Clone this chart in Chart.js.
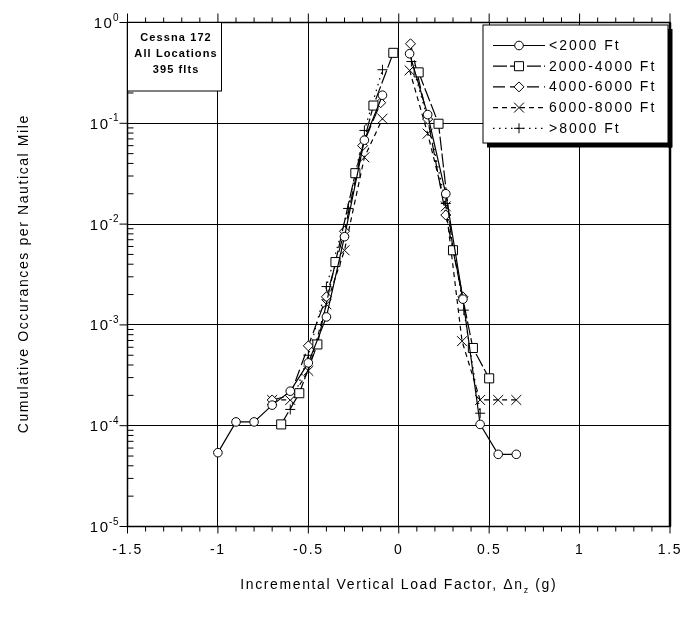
<!DOCTYPE html>
<html>
<head>
<meta charset="utf-8">
<script src="https://cdn.jsdelivr.net/npm/chart.js@4.4.1/dist/chart.umd.min.js"></script>
<style>
  html, body { margin: 0; padding: 0; background: #fff; }
  canvas { display: block; }
</style>
</head>
<body>
<canvas id="gustChart" width="681" height="620"></canvas>
<script>
// tick labels
const xTicks = [-1.5, -1, -0.5, 0, 0.5, 1, 1.5]
const xTickLabels = ['-1.5', '-1', '-0.5', '0', '0.5', '1', '1.5']
const yTicks = [1e-5, 1e-4, 1e-3, 1e-2, 1e-1, 1]
const yTickExps = ['-5', '-4', '-3', '-2', '-1', '0']

const seriesNames = ['<2000 Ft', '2000-4000 Ft', '4000-6000 Ft', '6000-8000 Ft', '>8000 Ft']

// null = gap between the negative and positive branch
const lt2000X = [-1.0, -0.9, -0.8, -0.7, -0.6, -0.5, -0.4, -0.3, -0.19, -0.09, null, 0.06, 0.16, 0.26, 0.355, 0.45, 0.55, 0.65]
const lt2000Y = [5.4e-5, 1.09e-4, 1.09e-4, 1.6e-4, 2.2e-4, 4.2e-4, 1.2e-3, 7.5e-3, 0.068, 0.19, null, 0.49, 0.122, 0.020, 1.8e-3, 1.03e-4, 5.2e-5, 5.2e-5]

const ft2to4X = [-0.65, -0.55, -0.45, -0.35, -0.24, -0.14, -0.03, null, 0.11, 0.22, 0.30, 0.41, 0.50]
const ft2to4Y = [1.03e-4, 2.1e-4, 6.4e-4, 4.2e-3, 0.032, 0.15, 0.50, null, 0.32, 0.099, 5.5e-3, 5.9e-4, 2.95e-4]

const ft4to6X = [-0.7, -0.6, -0.5, -0.4, -0.3, -0.2, -0.1, null, 0.065, 0.16, 0.26, 0.355]
const ft4to6Y = [1.8e-4, 2.0e-4, 6.2e-4, 1.9e-3, 8.5e-3, 0.06, 0.16, null, 0.615, 0.11, 0.0123, 1.9e-3]

const ft6to8X = [-0.7, -0.6, -0.5, -0.4, -0.3, -0.19, -0.09, null, 0.06, 0.16, 0.26, 0.35, 0.45, 0.55, 0.65]
const ft6to8Y = [1.8e-4, 1.8e-4, 3.5e-4, 1.6e-3, 5.5e-3, 0.046, 0.111, null, 0.335, 0.079, 0.015, 6.9e-4, 1.8e-4, 1.8e-4, 1.8e-4]

const gt8000X = [-0.6, -0.5, -0.4, -0.28, -0.19, -0.09, null, 0.07, 0.16, 0.26, 0.36, 0.45]
const gt8000Y = [1.45e-4, 5e-4, 2.4e-3, 0.0143, 0.085, 0.34, null, 0.41, 0.11, 0.016, 1.4e-3, 1.33e-4]

const FONT = '"Liberation Sans", Arial, Helvetica, sans-serif'

const toPoints = (xs, ys) => xs.map((x, i) => ({ x: x, y: ys[i] }))

function makeSet(name, xs, ys, style, radius, dash) {
    return {
        label: name,
        data: toPoints(xs, ys),
        showLine: true,
        spanGaps: false,
        borderColor: '#000',
        borderWidth: 1.2,
        borderDash: dash,
        pointStyle: style,
        pointRadius: radius,
        pointHoverRadius: radius,
        pointBorderWidth: 1,
        pointBorderColor: '#000',
        pointBackgroundColor: '#fff',
        tension: 0,
    }
}

function textSpaced(ctx, text, x, y, spacing, align) {
    ctx.letterSpacing = spacing + 'px'
    const w = ctx.measureText(text).width - spacing
    ctx.textAlign = 'left'
    let x0 = x
    if (align === 'center') x0 = x - w / 2
    if (align === 'right') x0 = x - w
    ctx.fillText(text, x0, y)
    return w
}

const decorations = {
    id: 'decorations',
    beforeDraw(chart) {
        chart.ctx.letterSpacing = '1.6px'
    },
    afterDatasetsDraw(chart) {
        const ctx = chart.ctx
        const area = chart.chartArea
        const xs = chart.scales.x
        const ys = chart.scales.y
        ctx.save()
        ctx.setLineDash([])
        ctx.strokeStyle = '#000'
        ctx.fillStyle = '#000'

        // frame
        ctx.lineWidth = 1.5
        ctx.strokeRect(area.left, area.top, area.right - area.left, area.bottom - area.top)
        ctx.lineWidth = 2.5
        ctx.beginPath()
        ctx.moveTo(area.right, area.top)
        ctx.lineTo(area.right, area.bottom)
        ctx.stroke()

        // x ticks (outward, top and bottom)
        ctx.lineWidth = 1
        ctx.beginPath()
        for (let k = -15; k <= 15; k++) {
            const px = xs.getPixelForValue(k / 10)
            const major = k % 5 === 0
            const len = major ? 9 : 5
            ctx.moveTo(px, area.bottom)
            ctx.lineTo(px, area.bottom + (major ? 7 : 5))
            ctx.moveTo(px, area.top)
            ctx.lineTo(px, area.top - len)
        }
        // y ticks: majors outward, minors inward
        yTicks.forEach(v => {
            const py = ys.getPixelForValue(v)
            ctx.moveTo(area.left - 8, py)
            ctx.lineTo(area.left, py)
        })
        for (let d = -5; d < 0; d++) {
            for (let m = 2; m <= 9; m++) {
                const py = ys.getPixelForValue(m * Math.pow(10, d))
                ctx.moveTo(area.left, py)
                ctx.lineTo(area.left + 6, py)
            }
        }
        ctx.stroke()

        // y tick labels 10^n
        ctx.textBaseline = 'alphabetic'
        yTicks.forEach((v, i) => {
            const py = ys.getPixelForValue(v)
            ctx.font = '10px ' + FONT
            ctx.letterSpacing = '0.5px'
            const ew = ctx.measureText(yTickExps[i]).width
            const ex = 119 - ew
            ctx.textAlign = 'left'
            ctx.fillText(yTickExps[i], ex, py - 2)
            ctx.font = '15px ' + FONT
            textSpaced(ctx, '10', ex - 1, py + 5.5, 1.6, 'right')
        })

        // axis titles
        ctx.font = '14px ' + FONT
        ctx.textBaseline = 'middle'
        ctx.save()
        ctx.translate(24, (area.top + area.bottom) / 2)
        ctx.rotate(-Math.PI / 2)
        textSpaced(ctx, 'Cumulative Occurances per Nautical Mile', 0, 0, 1.6, 'center')
        ctx.restore()

        const t1 = 'Incremental Vertical Load Factor, Δn'
        const t2 = 'z'
        const t3 = ' (g)'
        ctx.letterSpacing = '1.6px'
        ctx.font = '14px ' + FONT
        const w1 = ctx.measureText(t1).width
        const w3 = ctx.measureText(t3).width
        ctx.font = '9px ' + FONT
        const w2 = ctx.measureText(t2).width
        let tx = (area.left + area.right) / 2 - (w1 + w2 + w3) / 2
        const ty = 585
        ctx.textAlign = 'left'
        ctx.font = '14px ' + FONT
        ctx.fillText(t1, tx, ty)
        ctx.font = '9px ' + FONT
        ctx.fillText(t2, tx + w1, ty + 6)
        ctx.font = '14px ' + FONT
        ctx.fillText(t3, tx + w1 + w2, ty)

        // info box
        ctx.fillStyle = '#fff'
        ctx.fillRect(area.left, area.top, 94, 68.5)
        ctx.lineWidth = 1
        ctx.strokeRect(area.left, area.top, 94, 68.5)
        ctx.fillStyle = '#000'
        ctx.font = 'bold 11px ' + FONT
        ctx.textBaseline = 'middle'
        textSpaced(ctx, 'Cessna 172', area.left + 48, 38, 1.1, 'center')
        textSpaced(ctx, 'All Locations', area.left + 48, 53.5, 1.1, 'center')
        textSpaced(ctx, '395 flts', area.left + 48, 69.5, 1.1, 'center')

        // legend
        const lx = 483, ly = 25, lw = 185, lh = 118
        ctx.fillStyle = '#000'
        ctx.fillRect(lx + 4, ly + lh, lw, 4.5)
        ctx.fillRect(lx + lw, ly + 4, 4.5, lh + 0.5)
        ctx.fillStyle = '#fff'
        ctx.fillRect(lx, ly, lw, lh)
        ctx.lineWidth = 1
        ctx.strokeRect(lx, ly, lw, lh)
        chart.data.datasets.forEach((ds, i) => {
            const ry = 45.5 + i * 20.7
            ctx.lineWidth = ds.borderWidth
            ctx.setLineDash(ds.borderDash || [])
            ctx.beginPath()
            ctx.moveTo(493, ry)
            ctx.lineTo(545, ry)
            ctx.stroke()
            ctx.setLineDash([])
            ctx.fillStyle = '#fff'
            ctx.strokeStyle = '#000'
            ctx.lineWidth = 1
            Chart.helpers.drawPoint(ctx, {
                pointStyle: ds.pointStyle, radius: ds.pointRadius, rotation: 0, borderWidth: 1
            }, 519, ry)
            ctx.fillStyle = '#000'
            ctx.font = '14px ' + FONT
            ctx.textBaseline = 'middle'
            textSpaced(ctx, ds.label, 549, ry + 0.5, 2, 'left')
        })
        ctx.restore()
    }
}

const ctx = document.getElementById('gustChart').getContext('2d')

new Chart(ctx, {
    type: 'scatter',
    data: {
        datasets: [
            makeSet(seriesNames[0], lt2000X, lt2000Y, 'circle', 4.3, []),
            makeSet(seriesNames[1], ft2to4X, ft2to4Y, 'rect', 6.4, [14, 3]),
            makeSet(seriesNames[2], ft4to6X, ft4to6Y, 'rectRot', 5, [12, 5]),
            makeSet(seriesNames[3], ft6to8X, ft6to8Y, 'crossRot', 7, [5, 4]),
            makeSet(seriesNames[4], gt8000X, gt8000Y, 'cross', 5, [1.5, 4.5]),
        ]
    },
    options: {
        responsive: false,
        animation: false,
        events: [],
        layout: { padding: { top: 22.5, right: 11, left: 0, bottom: 0 } },
        plugins: {
            legend: { display: false },
            tooltip: { enabled: false },
        },
        scales: {
            x: {
                type: 'linear',
                min: -1.5,
                max: 1.5,
                afterBuildTicks: s => { s.ticks = xTicks.map(v => ({ value: v })) },
                afterFit: s => {
                    s.height = 93.5
                    s.paddingLeft = 0
                    s.paddingRight = 0
                },
                ticks: {
                    color: '#000',
                    padding: 15,
                    maxRotation: 0,
                    font: { family: FONT, size: 14 },
                    callback: (v, i) => xTickLabels[i],
                },
                grid: { color: '#000', lineWidth: 1, drawTicks: false },
                border: { display: false },
            },
            y: {
                type: 'logarithmic',
                min: 1e-5,
                max: 1,
                afterBuildTicks: s => { s.ticks = yTicks.map(v => ({ value: v })) },
                afterFit: s => {
                    s.width = 127.5
                    s.paddingTop = 0
                    s.paddingBottom = 0
                },
                ticks: { display: false },
                grid: { color: '#000', lineWidth: 1, drawTicks: false },
                border: { display: false },
            }
        }
    },
    plugins: [decorations]
})
</script>
</body>
</html>
